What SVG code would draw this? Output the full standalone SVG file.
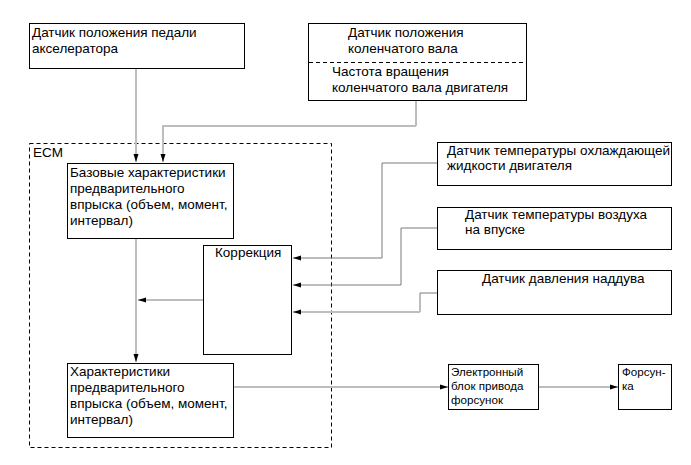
<svg xmlns="http://www.w3.org/2000/svg" width="691" height="465" viewBox="0 0 691 465">
<defs>
<style>
text{font-family:"Liberation Sans",Arial,sans-serif;font-size:13.5px;fill:#000}
.sm{font-size:11.6px}
.box{fill:#fff;stroke:#000;stroke-width:1}
.dash{fill:none;stroke:#000;stroke-width:1;stroke-dasharray:4 3}
.lt{fill:none;stroke:#bdbdbd;stroke-width:2}
.dk{fill:none;stroke:#7a7a7a;stroke-width:1}
</style>
<marker id="ah" markerUnits="userSpaceOnUse" markerWidth="8" markerHeight="6" refX="8" refY="3" orient="auto">
<path d="M0,0.5 L8,3 L0,5.5 Z" fill="#000"/>
</marker>
</defs>
<rect width="691" height="465" fill="#fff"/>

<g id="ecm">
<rect class="dash" x="29.5" y="143.5" width="302" height="304"/>
<text x="33" y="157">ECM</text>
</g>

<g id="connectors">
<path class="lt" d="M136,68 V162" marker-end="url(#ah)"/>
<path class="dk" d="M416,100 V126"/>
<path class="lt" d="M416,126 H163 V162" marker-end="url(#ah)"/>
<path class="lt" d="M437,163 H382"/>
<path class="dk" d="M382,163 V258 H293" marker-end="url(#ah)"/>
<path class="dk" d="M437,228 H401 V285 H293" marker-end="url(#ah)"/>
<path class="dk" d="M437,293 H420 V312"/>
<path class="lt" d="M420,312 H293" marker-end="url(#ah)"/>
<path class="lt" d="M203,300 H138" marker-end="url(#ah)"/>
<path class="lt" d="M136,238 V362" marker-end="url(#ah)"/>
<path class="lt" d="M233,387 H448" marker-end="url(#ah)"/>
<path class="lt" d="M538,387 H618" marker-end="url(#ah)"/>
</g>

<g id="accel-sensor">
<rect class="box" x="29.5" y="23.5" width="215" height="45"/>
<text x="32" y="37">Датчик положения педали</text>
<text x="32" y="53">акселератора</text>
</g>

<g id="crank-sensor">
<rect class="box" x="308.5" y="23.5" width="218" height="77"/>
<line class="dash" x1="309" y1="62.5" x2="526" y2="62.5"/>
<text x="348" y="37">Датчик положения</text>
<text x="348" y="53">коленчатого вала</text>
<text x="332" y="76">Частота вращения</text>
<text x="332" y="92">коленчатого вала двигателя</text>
</g>

<g id="base-char">
<rect class="box" x="67.5" y="163.5" width="166" height="75"/>
<text x="70" y="177">Базовые характеристики</text>
<text x="70" y="193">предварительного</text>
<text x="70" y="209">впрыска (объем, момент,</text>
<text x="70" y="225">интервал)</text>
</g>

<g id="correction">
<rect class="box" x="203.5" y="245.5" width="88" height="109"/>
<text x="215" y="257">Коррекция</text>
</g>

<g id="coolant-sensor">
<rect class="box" x="437.5" y="142.5" width="234" height="43"/>
<text x="447" y="155">Датчик температуры охлаждающей</text>
<text x="447" y="170">жидкости двигателя</text>
</g>

<g id="intake-sensor">
<rect class="box" x="437.5" y="207.5" width="234" height="42"/>
<text x="465" y="219">Датчик температуры воздуха</text>
<text x="465" y="234">на впуске</text>
</g>

<g id="boost-sensor">
<rect class="box" x="437.5" y="270.5" width="234" height="44"/>
<text x="482" y="283">Датчик давления наддува</text>
</g>

<g id="char">
<rect class="box" x="67.5" y="363.5" width="166" height="74"/>
<text x="70" y="376">Характеристики</text>
<text x="70" y="392">предварительного</text>
<text x="70" y="408">впрыска (объем, момент,</text>
<text x="70" y="424">интервал)</text>
</g>

<g id="driver">
<rect class="box" x="448.5" y="364.5" width="90" height="45"/>
<text class="sm" x="451" y="376">Электронный</text>
<text class="sm" x="451" y="390">блок привода</text>
<text class="sm" x="451" y="404">форсунок</text>
</g>

<g id="injector">
<rect class="box" x="618.5" y="364.5" width="53" height="45"/>
<text class="sm" x="622" y="376">Форсун-</text>
<text class="sm" x="622" y="390">ка</text>
</g>
</svg>
